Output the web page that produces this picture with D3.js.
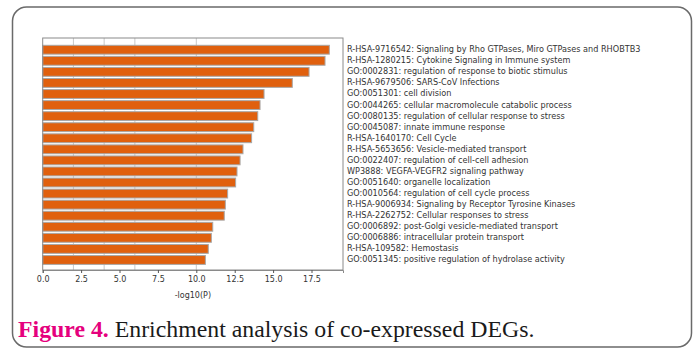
<!DOCTYPE html>
<html>
<head>
<meta charset="utf-8">
<script src="https://cdn.jsdelivr.net/npm/d3@7"></script>
<style>
  body { margin: 0; background: #fff; }
  svg { display: block; }
</style>
</head>
<body>
<div id="chart"></div>
<script>
// terms, top to bottom
const terms = [
  "R-HSA-9716542: Signaling by Rho GTPases, Miro GTPases and RHOBTB3",
  "R-HSA-1280215: Cytokine Signaling in Immune system",
  "GO:0002831: regulation of response to biotic stimulus",
  "R-HSA-9679506: SARS-CoV Infections",
  "GO:0051301: cell division",
  "GO:0044265: cellular macromolecule catabolic process",
  "GO:0080135: regulation of cellular response to stress",
  "GO:0045087: innate immune response",
  "R-HSA-1640170: Cell Cycle",
  "R-HSA-5653656: Vesicle-mediated transport",
  "GO:0022407: regulation of cell-cell adhesion",
  "WP3888: VEGFA-VEGFR2 signaling pathway",
  "GO:0051640: organelle localization",
  "GO:0010564: regulation of cell cycle process",
  "R-HSA-9006934: Signaling by Receptor Tyrosine Kinases",
  "R-HSA-2262752: Cellular responses to stress",
  "GO:0006892: post-Golgi vesicle-mediated transport",
  "GO:0006886: intracellular protein transport",
  "R-HSA-109582: Hemostasis",
  "GO:0051345: positive regulation of hydrolase activity"
];
const logP = [18.66, 18.38, 17.34, 16.25, 14.41, 14.15, 14.0, 13.74, 13.6, 13.04,
              12.85, 12.65, 12.56, 12.04, 11.89, 11.82, 11.07, 10.98, 10.78, 10.59];
const xTicks = [0, 2.5, 5, 7.5, 10, 12.5, 15, 17.5];
const gridVals = [2, 4, 6, 10];

const W = 698, H = 349;
const plot = { left: 42.7, right: 343, top: 38, bottom: 270 };

const svg = d3.select("#chart").append("svg")
  .attr("width", W).attr("height", H);

svg.append("rect").attr("width", W).attr("height", H).attr("fill", "#fff");

// card border
svg.append("rect")
  .attr("x", 12.5).attr("y", 7)
  .attr("width", 679).attr("height", 340)
  .attr("rx", 14).attr("ry", 14)
  .attr("fill", "none")
  .attr("stroke", "#6a6a6a")
  .attr("stroke-width", 1.5);

const x = d3.scaleLinear().domain([0, 19.55]).range([plot.left, plot.right]);
const y = d3.scaleBand().domain(terms).range([44.2, 265.5]).paddingInner(0.2).paddingOuter(0.1);

// grid lines
svg.append("g").selectAll("line").data(gridVals).join("line")
  .attr("x1", d => x(d)).attr("x2", d => x(d))
  .attr("y1", plot.top).attr("y2", plot.bottom)
  .attr("stroke", "#c8c8c8").attr("stroke-width", 1);

// bars
svg.append("g").selectAll("rect").data(terms).join("rect")
  .attr("x", x(0))
  .attr("y", d => y(d))
  .attr("width", (d, i) => x(logP[i]) - x(0))
  .attr("height", y.bandwidth())
  .attr("fill", "#e0600e")
  .attr("stroke", "#a8a8a8")
  .attr("stroke-width", 1);

// frame
svg.append("rect")
  .attr("x", plot.left).attr("y", plot.top)
  .attr("width", plot.right - plot.left).attr("height", plot.bottom - plot.top)
  .attr("fill", "none").attr("stroke", "#8a8a8a").attr("stroke-width", 1);

// x axis
const xAxis = svg.append("g")
  .attr("transform", `translate(0,${plot.bottom})`)
  .call(d3.axisBottom(x).tickValues(xTicks).tickFormat(d3.format(".1f")).tickSize(3).tickPadding(3));
xAxis.select(".domain").attr("stroke", "#8a8a8a");
xAxis.selectAll(".tick line").attr("stroke", "#555");
xAxis.selectAll("text")
  .attr("font-family", "DejaVu Sans")
  .attr("font-size", 8)
  .attr("fill", "#333");

svg.append("text")
  .attr("x", (plot.left + plot.right) / 2)
  .attr("y", 295)
  .attr("dominant-baseline", "middle")
  .attr("text-anchor", "middle")
  .attr("font-family", "DejaVu Sans")
  .attr("font-size", 8)
  .attr("fill", "#333")
  .text("-log10(P)");

// term labels
svg.append("g").selectAll("text").data(terms).join("text")
  .attr("x", plot.right + 4)
  .attr("y", d => y(d) + y.bandwidth() / 2)
  .attr("dominant-baseline", "middle")
  .attr("font-family", "DejaVu Sans")
  .attr("font-size", 8.15)
  .attr("fill", "#333")
  .text(d => d);

// caption
const cap = svg.append("text")
  .attr("x", 18).attr("y", 337)
  .attr("font-family", "Liberation Serif")
  .attr("font-size", 23.8)
  .attr("fill", "#1a1a1a");
cap.append("tspan").attr("font-weight", "bold").attr("fill", "#e5007d").text("Figure 4.");
cap.append("tspan").text(" Enrichment analysis of co-expressed DEGs.");
</script>
</body>
</html>
